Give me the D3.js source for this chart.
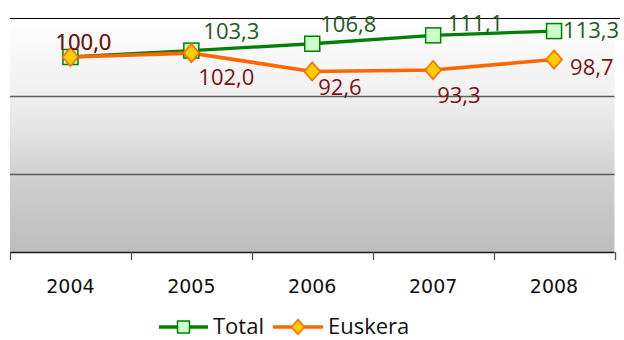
<!DOCTYPE html>
<html>
<head>
<meta charset="utf-8">
<script src="https://cdn.jsdelivr.net/npm/d3@7"></script>
<style>
  html, body { margin: 0; padding: 0; background: #ffffff; }
  svg { display: block; }
</style>
</head>
<body>
<div id="chart"></div>
<script>
// Index values, 2004 = 100
const years = ["2004", "2005", "2006", "2007", "2008"];
const totalValues = [100.0, 103.3, 106.8, 111.1, 113.3];
const euskeraValues = [100.0, 102.0, 92.6, 93.3, 98.7];
const seriesNames = ["Total", "Euskera"];
const yTicks = [0, 40, 80, 120];

const W = 624, H = 340;
const plot = { left: 10, right: 614.5, top: 18, bottom: 252 };

const svg = d3.select("#chart").append("svg")
  .attr("width", W).attr("height", H);

const x = d3.scaleBand().domain(years).range([plot.left, plot.right]).padding(0);
const y = d3.scaleLinear().domain([0, 120]).range([plot.bottom, plot.top]);
const cx = d => x(d) + x.bandwidth() / 2;

// plot area background gradient
const defs = svg.append("defs");
const grad = defs.append("linearGradient").attr("id", "plotBg")
  .attr("x1", 0).attr("y1", 0).attr("x2", 0).attr("y2", 1);
[[0, "#ffffff"], [0.33, "#f0f0f0"], [0.5, "#e2e2e2"], [0.67, "#d0d0d0"], [1, "#bdbdbd"]]
  .forEach(([o, c]) => grad.append("stop").attr("offset", o).attr("stop-color", c));

svg.append("rect")
  .attr("x", plot.left).attr("y", plot.top)
  .attr("width", plot.right - plot.left).attr("height", plot.bottom - plot.top)
  .attr("fill", "url(#plotBg)");

// horizontal gridlines
svg.append("g").selectAll("line")
  .data(yTicks.filter(t => t > 0))
  .join("line")
  .attr("x1", plot.left).attr("x2", d => d === 120 ? 620 : plot.right)
  .attr("y1", d => Math.round(y(d)) + 0.5).attr("y2", d => Math.round(y(d)) + 0.5)
  .attr("stroke", d => d === 120 ? "#000000" : "#5e5e5e")
  .attr("stroke-width", d => d === 120 ? 1.2 : 1.3);

// category axis
const xAxis = svg.append("g")
  .attr("transform", `translate(0,${plot.bottom})`);
xAxis.append("line")
  .attr("x1", plot.left).attr("x2", plot.right)
  .attr("y1", 0.5).attr("y2", 0.5)
  .attr("stroke", "#1a1a1a").attr("stroke-width", 1.5);
const bounds = years.map(d => x(d)).concat([plot.right]);
xAxis.selectAll("line.tick")
  .data(bounds)
  .join("line").attr("class", "tick")
  .attr("x1", d => Math.round(d) + 0.5).attr("x2", d => Math.round(d) + 0.5)
  .attr("y1", 0).attr("y2", 8)
  .attr("stroke", "#555555").attr("stroke-width", 1.3);
xAxis.selectAll("text")
  .data(years)
  .join("text")
  .attr("x", d => cx(d)).attr("y", 41)
  .attr("text-anchor", "middle")
  .attr("font-family", "DejaVu Sans, Verdana, sans-serif")
  .attr("font-size", 19)
  .attr("fill", "#111111")
  .text(d => d);

const fmt = v => v.toFixed(1).replace(".", ",");

const series = [
  { name: seriesNames[0], values: totalValues, line: "#008000", width: 3.3,
    fill: "#ccffcc", marker: "square", label: "#1f5a1f",
    offsets: [[-15, -7], [12, -12], [8, -12], [14, -4], [9, 7]] },
  { name: seriesNames[1], values: euskeraValues, line: "#ff6600", width: 3.6,
    fill: "#ffcc00", marker: "diamond", label: "#7f1212",
    offsets: [[-15, -7], [7, 32], [6, 24], [4, 33], [16, 15]] }
];

function drawMarker(g, type, stroke, fill, s) {
  if (type === "square") {
    g.append("rect")
      .attr("x", -s).attr("y", -s).attr("width", 2 * s).attr("height", 2 * s)
      .attr("fill", fill).attr("stroke", stroke).attr("stroke-width", 1.5);
  } else {
    g.append("path")
      .attr("d", `M0,${-s * 1.15}L${s},0L0,${s * 1.15}L${-s},0Z`)
      .attr("fill", fill).attr("stroke", stroke).attr("stroke-width", 1.5);
  }
}

const lineGen = d3.line().x((d, i) => cx(years[i])).y(d => y(d));

series.forEach(s => {
  svg.append("path")
    .datum(s.values)
    .attr("d", lineGen)
    .attr("fill", "none")
    .attr("stroke", s.line)
    .attr("stroke-width", s.width)
    .attr("stroke-linejoin", "round");
});

series.forEach(s => {
  s.values.forEach((v, i) => {
    const g = svg.append("g").attr("transform", `translate(${cx(years[i])},${y(v)})`);
    drawMarker(g, s.marker, s.line, s.fill, s.marker === "square" ? 7.5 : 8);
  });
});

// value labels
series.forEach(s => {
  svg.append("g").selectAll("text")
    .data(s.values)
    .join("text")
    .attr("x", (d, i) => cx(years[i]) + s.offsets[i][0])
    .attr("y", (d, i) => y(d) + s.offsets[i][1])
    .attr("font-family", "Open Sans, sans-serif")
    .attr("font-size", 22)
    .attr("fill", s.label)
    .text(d => fmt(d));
});

// legend
const legend = svg.append("g");
const legendItems = [
  { s: series[0], x0: 159, x1: 208, tx: 213 },
  { s: series[1], x0: 273, x1: 323, tx: 328 }
];
const ly = 327;
legendItems.forEach(it => {
  legend.append("line")
    .attr("x1", it.x0).attr("x2", it.x1).attr("y1", ly).attr("y2", ly)
    .attr("stroke", it.s.line).attr("stroke-width", it.s.width);
  const g = legend.append("g").attr("transform", `translate(${(it.x0 + it.x1) / 2},${ly})`);
  drawMarker(g, it.s.marker, it.s.line, it.s.fill, it.s.marker === "square" ? 6 : 6.5);
  legend.append("text")
    .attr("x", it.tx).attr("y", 334)
    .attr("font-family", "Open Sans, sans-serif")
    .attr("font-size", 22)
    .attr("fill", "#111111")
    .text(it.s.name);
});
</script>
</body>
</html>
